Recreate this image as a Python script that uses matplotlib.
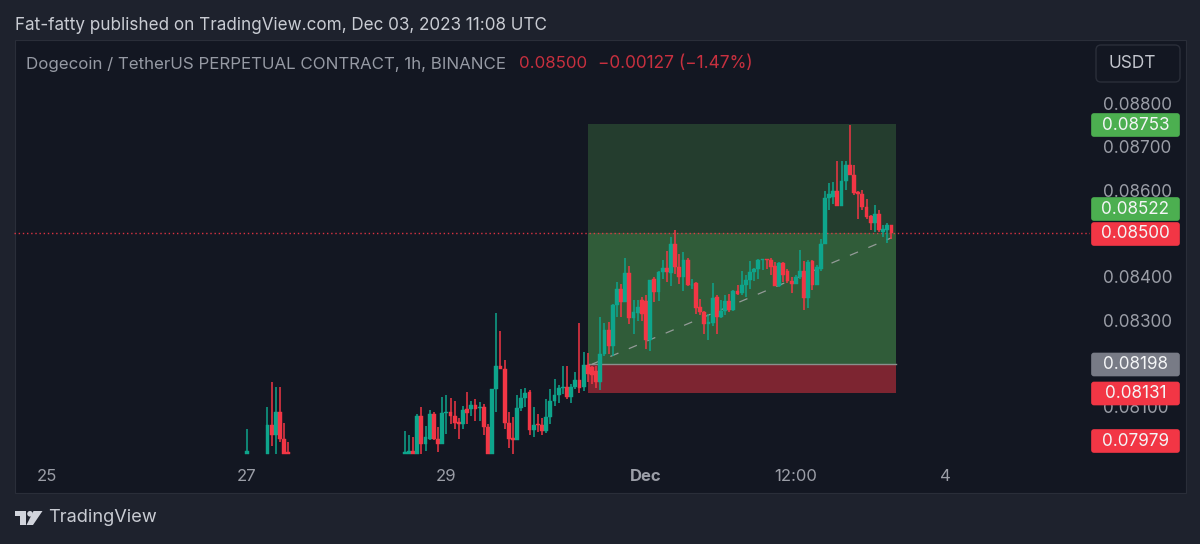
import numpy as np
import matplotlib
matplotlib.use('Agg')
import matplotlib.pyplot as plt
from matplotlib.patches import Rectangle, FancyBboxPatch, Polygon, Circle

plt.rcParams['font.family'] = ['Inter', 'DejaVu Sans']

# Candles, hours since 25 Nov 00:00. Prices in units of 0.00001.
hours = [48] + list(range(53, 59)) + list(range(86, 204))
opens = [7991, 7991, 8058, 8035, 8087, 8025, 7995,
    7991, 7991, 7997, 7991, 8079, 8015, 8025, 8083, 8025, 8015, 8085, 8087, 8079, 8064,
    8059, 8095, 8095, 8104, 8096, 8099, 8054, 7991, 8141, 8193, 8188, 8062, 8027, 8023,
    8097, 8119, 8135, 8046, 8059, 8057, 8045, 8077, 8114, 8128, 8143, 8146, 8123, 8146,
    8162, 8145, 8197, 8191, 8183, 8156, 8222, 8276, 8239, 8334, 8372, 8341, 8408, 8305,
    8316, 8347, 8345, 8253, 8395, 8364, 8411, 8420, 8408, 8475, 8422, 8399, 8438, 8380,
    8385, 8330, 8318, 8291, 8293, 8354, 8308, 8322, 8345, 8324, 8368, 8362, 8381, 8393,
    8411, 8418, 8438, 8441, 8439, 8424, 8378, 8431, 8414, 8391, 8384, 8399, 8414, 8351,
    8436, 8382, 8418, 8476, 8581, 8584, 8597, 8564, 8621, 8659, 8636, 8596, 8591, 8561,
    8540, 8523, 8545, 8503, 8507, 8520]
closes = [7997, 8058, 8035, 8087, 8025, 7991, 7991,
    7996, 7997, 7991, 8079, 8015, 8029, 8083, 8025, 8015, 8085, 8087, 8079, 8062, 8060,
    8092, 8085, 8104, 8095, 8100, 8054, 7991, 8141, 8195, 8188, 8062, 8025, 8024, 8097,
    8119, 8132, 8046, 8058, 8057, 8045, 8077, 8114, 8128, 8143, 8146, 8122, 8146, 8162,
    8143, 8197, 8176, 8174, 8156, 8222, 8276, 8239, 8334, 8372, 8341, 8408, 8305, 8318,
    8331, 8314, 8253, 8393, 8364, 8411, 8420, 8411, 8475, 8422, 8399, 8438, 8380, 8382,
    8328, 8318, 8291, 8295, 8351, 8308, 8322, 8345, 8324, 8368, 8361, 8381, 8393, 8411,
    8418, 8439, 8441, 8438, 8422, 8378, 8431, 8405, 8391, 8384, 8399, 8414, 8351, 8434,
    8382, 8422, 8476, 8581, 8590, 8597, 8564, 8621, 8659, 8634, 8594, 8591, 8561, 8538,
    8523, 8544, 8507, 8511, 8520, 8500]
highs = [8049, 8100, 8156, 8145, 8146, 8062, 8018,
    8045, 8035, 8029, 8083, 8099, 8056, 8092, 8087, 8052, 8122, 8126, 8120, 8114, 8075,
    8102, 8133, 8114, 8118, 8110, 8106, 8060, 8141, 8316, 8274, 8208, 8087, 8077, 8126,
    8141, 8143, 8139, 8100, 8082, 8075, 8118, 8141, 8164, 8149, 8193, 8193, 8152, 8181,
    8293, 8226, 8223, 8195, 8195, 8308, 8293, 8295, 8338, 8389, 8384, 8444, 8426, 8347,
    8347, 8353, 8357, 8393, 8399, 8414, 8438, 8459, 8491, 8508, 8453, 8457, 8444, 8395,
    8388, 8349, 8322, 8314, 8385, 8357, 8347, 8357, 8361, 8370, 8380, 8414, 8403, 8436,
    8421, 8441, 8441, 8442, 8444, 8434, 8434, 8434, 8418, 8399, 8403, 8462, 8436, 8439,
    8439, 8428, 8488, 8597, 8617, 8619, 8667, 8667, 8667, 8751, 8657, 8597, 8600, 8580,
    8542, 8565, 8554, 8519, 8523, 8520]
lows = [7991, 7991, 8010, 7991, 8018, 7991, 7991,
    7991, 7991, 7991, 7991, 7991, 7998, 8022, 8022, 7995, 8015, 8037, 8060, 8049, 8025,
    8049, 8059, 8079, 8066, 8066, 8035, 7991, 7991, 8087, 8187, 8049, 8005, 7991, 8022,
    8091, 8099, 8035, 8031, 8041, 8035, 8039, 8059, 8102, 8108, 8129, 8118, 8108, 8141,
    8131, 8137, 8156, 8152, 8143, 8139, 8218, 8222, 8218, 8307, 8307, 8341, 8291, 8268,
    8299, 8299, 8234, 8228, 8341, 8345, 8395, 8388, 8378, 8407, 8384, 8368, 8378, 8372,
    8314, 8311, 8268, 8253, 8287, 8268, 8305, 8311, 8318, 8321, 8357, 8359, 8354, 8372,
    8391, 8395, 8416, 8418, 8403, 8378, 8376, 8388, 8385, 8362, 8384, 8395, 8324, 8328,
    8370, 8382, 8414, 8476, 8554, 8569, 8564, 8564, 8600, 8634, 8588, 8534, 8554, 8533,
    8507, 8503, 8503, 8492, 8477, 8488]

# Long position tool
pos_start, pos_end = 130, 204
target, current, entry, stop = 0.08753, 0.08500, 0.08198, 0.08131

price_ticks = [0.081, 0.083, 0.084, 0.086, 0.087, 0.088]
time_ticks = [0, 48, 96, 144, 180, 216]
time_labels = ['25', '27', '29', 'Dec', '12:00', '4']

# Price tags on the axis: text, colour, centre y in pixels (they get pushed apart)
tag_texts = ['0.08753', '0.08522', '0.08500', '0.08198', '0.08131', '0.07979']
tag_colors = ['#4caf50', '#4caf50', '#f23645', '#787b86', '#f23645', '#f23645']
tag_ys = [125, 209, 234, 364.5, 393.5, 441]

BG = '#1e222d'
PANE = '#131722'
UP = '#0ea58c'
DOWN = '#f23645'
GREY = '#9b9ea7'

W, H = 1200, 544
fig = plt.figure(figsize=(W / 100, H / 100), dpi=100, facecolor=BG)

# backdrop, in pixel coordinates
back = fig.add_axes([0, 0, 1, 1], zorder=-1)
back.set_xlim(0, W)
back.set_ylim(H, 0)
back.axis('off')
back.add_patch(Rectangle((14.5, 39.5), 1171, 453.5, fc=PANE, ec='#2a2e39', lw=0.8))

# the chart itself
left, right, top, bottom = 14, 1090, 39, 463
ax = fig.add_axes([left / W, 1 - bottom / H, (right - left) / W, (bottom - top) / H], zorder=1)
ax.patch.set_alpha(0)
ax.set_xlim((left - 47) / 4.16, (right - 47) / 4.16)
ax.set_ylim(0.0797, 0.08949)
for s in ax.spines.values():
    s.set_visible(False)

ax.add_patch(Rectangle((pos_start, current), pos_end - pos_start, target - current, fc='#243d2e', lw=0, zorder=1))
ax.add_patch(Rectangle((pos_start, entry), pos_end - pos_start, current - entry, fc='#305c39', lw=0, zorder=1))
ax.add_patch(Rectangle((pos_start, stop), pos_end - pos_start, entry - stop, fc='#7d2531', lw=0, zorder=1))
ax.plot([pos_start, pos_end], [entry, entry], color='#8a8f8c', lw=1.0, zorder=2)

hours = np.array(hours)
o, c = np.array(opens) / 1e5, np.array(closes) / 1e5
hi, lo = np.array(highs) / 1e5, np.array(lows) / 1e5
colors = np.where(c >= o, UP, DOWN)

ax.axhline(current, color=DOWN, lw=1.0, ls=(0, (1, 2)), alpha=0.9, zorder=2)
ax.plot([131, 203], [entry, 0.0849], color='#949b98', lw=0.9, ls=(0, (7, 9)), zorder=2.5)
ax.vlines(hours, lo, hi, colors=colors, lw=1.1, zorder=3)
ax.bar(hours, np.abs(c - o), bottom=np.minimum(o, c), width=0.92, color=colors,
       edgecolor=colors, linewidth=0.3, zorder=4)

ax.set_xticks(time_ticks)
ax.set_xticklabels(time_labels)
for lab in ax.get_xticklabels():
    if lab.get_text() == 'Dec':
        lab.set_fontweight('bold')
ax.tick_params(axis='x', length=0, colors=GREY, labelsize=12, pad=4)

ax.yaxis.tick_right()
ax.set_yticks(price_ticks)
ax.set_yticklabels(['%.5f' % p for p in price_ticks])
ax.tick_params(axis='y', length=0, colors=GREY, labelsize=12.3, pad=9)

# tags, header, logo on top
over = fig.add_axes([0, 0, 1, 1], zorder=2)
over.patch.set_alpha(0)
over.set_xlim(0, W)
over.set_ylim(H, 0)
over.axis('off')

for txt, col, y in zip(tag_texts, tag_colors, tag_ys):
    over.add_patch(FancyBboxPatch((1092, y - 11), 87, 22, boxstyle='round,pad=0,rounding_size=2',
                                  fc=col, ec=col, lw=1.2))
    over.text(1135.5, y, txt, color='#f4f5f6', fontsize=12.3, ha='center', va='center')

over.add_patch(FancyBboxPatch((1096, 45), 84, 37, boxstyle='round,pad=0,rounding_size=5',
                              fc=PANE, ec='#2a2e39', lw=1))
over.text(1132, 63.5, 'USDT', color='#c3c6ce', fontsize=12.4, ha='center', va='center')

over.text(15, 26, 'Fat-fatty published on TradingView.com, Dec 03, 2023 11:08 UTC',
          color='#c9ccd3', fontsize=12.3, ha='left', va='center')
over.text(26, 64, 'Dogecoin / TetherUS PERPETUAL CONTRACT, 1h, BINANCE',
          color='#969aa4', fontsize=12.2, ha='left', va='center')
over.text(519, 64, '0.08500', color='#c8303f', fontsize=12.2, ha='left', va='center')
over.text(598, 64, '\u22120.00127 (\u22121.47%)', color='#c8303f', fontsize=12.4, ha='left', va='center')

# TradingView logo
logo = '#d1d4dc'
over.add_patch(Polygon([(14.5, 511), (26, 511), (26, 525), (20, 525), (20, 516), (14.5, 516)], fc=logo, lw=0))
over.add_patch(Circle((30, 513.8), 2.8, fc=logo, lw=0))
over.add_patch(Polygon([(33.5, 511), (42.5, 511), (33, 525), (26.5, 525)], fc=logo, lw=0))
over.text(48, 517.5, 'TradingView', color='#c9ccd3', fontsize=13.1, ha='left', va='center')

fig.savefig('out.png', dpi=100, facecolor=BG)
